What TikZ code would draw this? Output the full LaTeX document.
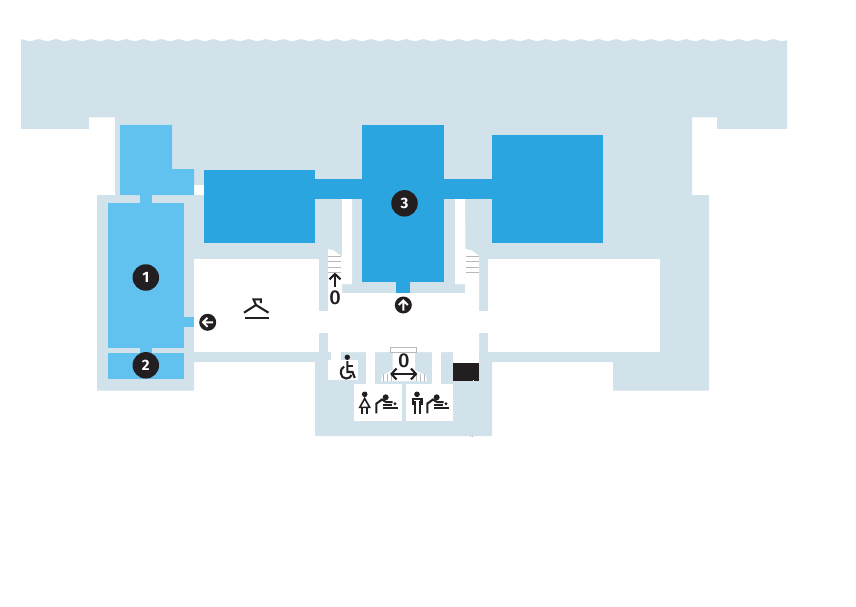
\documentclass[tikz,border=0pt]{standalone}
\usepackage{fontspec}
\setmainfont{Fira Sans}
\newfontfamily\zerofont{Fira Sans Medium}
\definecolor{wall}{HTML}{D2E2EB}
\definecolor{deepblue}{HTML}{2BA5E0}
\definecolor{midblue}{HTML}{62C2EF}
\definecolor{ink}{HTML}{231F20}
\definecolor{stairgrey}{HTML}{B8B8B8}
\tikzset{
  badge/.style={circle,fill=ink,text=white,minimum size=26.5pt,inner sep=0pt,font=\fontsize{15}{15}\selectfont\bfseries},
  arrowbadge/.style={circle,fill=ink,minimum size=17pt,inner sep=0pt},
  iconline/.style={draw=ink,line width=2.1pt,fill=none,line join=miter},
  whiteline/.style={draw=white,line width=1.9pt,fill=none},
  tread/.style={draw=stairgrey,line width=0.7pt},
  floorlabel/.style={text=ink,inner sep=0pt,font=\fontsize{20}{20}\selectfont\zerofont},
  babychange/.pic={
    \fill[ink] (0,0) circle (3);
    \draw[iconline] (-9.3,16) -- (-9.3,6.3) -- (-3.7,2.2) -- (0.5,4.8) -- (7,4.8);
    \draw[iconline] (-3,11) -- (11.8,11);
    \draw[iconline] (-2.7,7.6) -- (6.2,7.6);
    \fill[ink] (9.3,6.4) circle (1.6);
  }
}
\begin{document}
\begin{tikzpicture}[x=1pt,y=-1pt]
\useasboundingbox (0,0) rectangle (856,607);
% building
\fill[wall] plot[domain=21:787,samples=450] (\x,{39.2+1*(1-cos(20.571*(\x-21)))})
  -- (787,129) -- (717,129) -- (717,117.5) -- (692,117.5) -- (692,195) -- (709,195) -- (709,390.5)
  -- (613,390.5) -- (613,362) -- (492,362) -- (492,436) -- (315,436) -- (315,362) -- (194,362)
  -- (194,390.5) -- (97,390.5) -- (97,195) -- (115,195) -- (115,117.5) -- (89,117.5) -- (89,129) -- (21,129) -- cycle;
% white spaces
\fill[white] (194,259) rectangle (319,352);
\fill[white] (488,259) rectangle (660,352);
\fill[white] (194,185) rectangle (204,195);
\fill[white] (342,199) -- (352,199) -- (352,284) -- (342,284) -- (342,293) -- (465,293) -- (465,284) -- (455,284)
  -- (455,199) -- (465,199) -- (465.5,249) -- (472,250.5) -- (479,256) -- (479,352) -- (328,352) -- (328,249)
  -- (334,250.5) -- (341,256) -- (342,256) -- cycle;
\fill[white] (319,311) rectangle (328,333);
\fill[white] (479,311) rectangle (488,333);
\fill[white] (331,352) rectangle (341,360);
\fill[white] (328,360) rectangle (358,380);
\fill[white] (366,352) rectangle (375,384);
\fill[white] (432,352) rectangle (441,384);
\fill[white] (453,352) rectangle (479,363);
\fill[white] (354,384) rectangle (402,421);
\fill[white] (405.7,384) rectangle (453.3,421);
\fill[white] (381,381) -- (382,375.5) -- (392.5,370) -- (392.5,352) -- (415,352) -- (415,370) -- (426,375.5) -- (427,381) -- cycle;
% stairs
\foreach \y in {256,261.5,267.3,272}{\draw[tread] (328,\y) -- (341,\y);\draw[tread] (466,\y) -- (479,\y);}
\foreach \x in {383.5,387,391,416.5,420.5,424.5}{\draw[tread] (\x,373.5) -- (\x,381);}
\draw[stairgrey,line width=0.7pt,fill=white] (390.5,352.5) -- (390.5,347) -- (416.8,347) -- (416.8,352.5);
\draw[tread] (390.5,352) -- (416.8,352);
% rooms
\fill[midblue] (120,125) -- (172,125) -- (172,169) -- (194,169) -- (194,195) -- (120,195) -- cycle;
\fill[midblue] (108,203) rectangle (184,348);
\fill[midblue] (108,352.5) rectangle (184,379);
\fill[midblue] (140,195) rectangle (152,203);
\fill[midblue] (140,348) rectangle (152,352.5);
\fill[midblue] (184,317) rectangle (194,327);
\fill[deepblue] (204,170) rectangle (315,243);
\fill[deepblue] (362,125) rectangle (444,282);
\fill[deepblue] (492,135) rectangle (603,243);
\fill[deepblue] (315,179) rectangle (362,199);
\fill[deepblue] (444,179) rectangle (492,199);
\fill[deepblue] (396,282) rectangle (410,293);
% black block
\fill[ink] (453,363) rectangle (479,381);
\fill[white] (473,380) rectangle (473.8,381);
\draw[stairgrey,line width=0.4pt] (470,435.5) -- (470,437) (472,435.5) -- (472,437);
% badges
\node[badge] (one) at (145.8,277.5) {1};
\node[badge] (two) at (145.8,365.3) {2};
\node[badge] (three) at (404.5,203.3) {3};
\node[arrowbadge] (leftb) at (207.7,322.3) {};
\node[arrowbadge] (upb) at (403.3,305) {};
\draw[whiteline] (213,322.3) -- (203,322.3) (207.5,317.8) -- (203,322.3) -- (207.5,326.8);
\draw[whiteline] (403.3,310.5) -- (403.3,300.5) (398.8,305) -- (403.3,300.5) -- (407.8,305);
% hanger
\draw[iconline] (244,312.7) -- (256,305) -- (268.5,312.7);
\draw[iconline] (256,305) -- (253.5,299.3) -- (260.8,299.3) -- (260.8,303);
\draw[iconline] (244.5,317.7) -- (268.5,317.7);
% floor labels
\node[floorlabel] (lblA) at (335,297.5) {0};
\draw[iconline] (329.5,279.3) -- (335,274) -- (340.5,279.3);
\draw[iconline] (335,274.5) -- (335,287);
\node[floorlabel] (lblB) at (403.8,360.7) {0};
\draw[iconline] (396.5,368.5) -- (391.5,374) -- (396.5,379.5);
\draw[iconline] (411,368.5) -- (416,374) -- (411,379.5);
\draw[iconline] (392,374) -- (415.5,374);
% wheelchair
\fill[ink] (347.3,357.3) circle (2.7);
\draw[iconline] (347.3,361) -- (347.3,372) -- (352.5,372) -- (354.8,378);
\draw[iconline] (347.3,366) -- (352.5,366);
\draw[iconline] (344,366.5) .. controls (339,369) and (340,378.5) .. (346,378.5) .. controls (349,378.5) and (351,377) .. (351.5,375);
% women
\fill[ink] (364.7,394.3) circle (2.8);
\draw[ink,line width=1.6pt,line join=miter] (364.7,398.5) -- (359.8,407.3) -- (369.6,407.3) -- cycle;
\draw[iconline] (362.4,408) -- (362.4,413.5) (367,408) -- (367,413.5);
% men
\fill[ink] (417,394.3) circle (2.8);
\draw[iconline] (413,405) -- (413,399.3) -- (421.5,399.3) -- (421.5,405);
\draw[iconline] (415,401) -- (415,413.5) (419.7,401) -- (419.7,413.5);
% changing
\pic at (385.7,397.3) {babychange};
\pic at (436.7,397.3) {babychange};
\end{tikzpicture}
\end{document}
